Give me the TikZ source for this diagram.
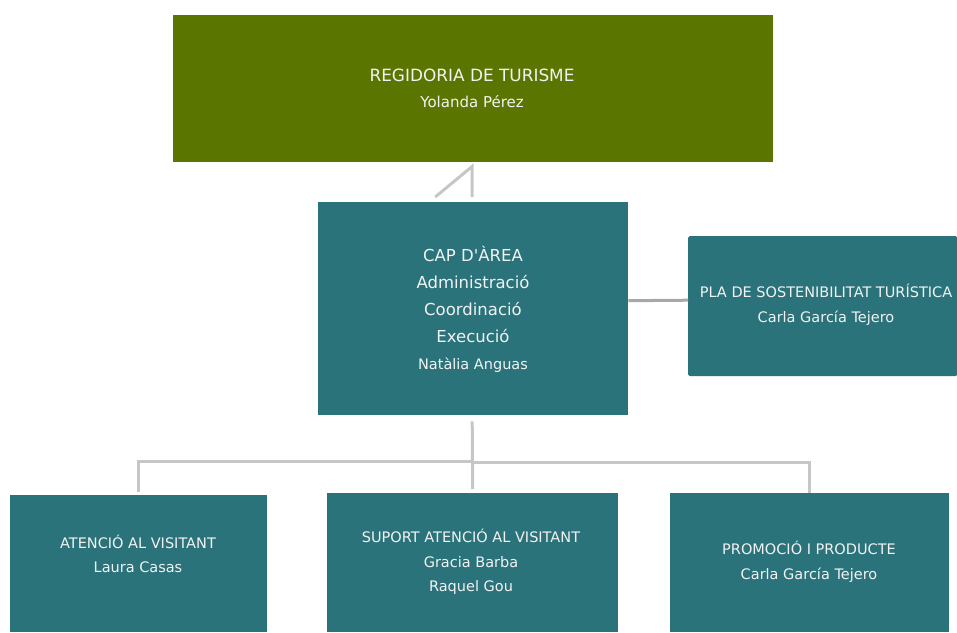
\documentclass[tikz,border=0pt]{standalone}
\usepackage{fontspec}
\setmainfont{DejaVu Sans}
\newfontfamily\plainf{DejaVu Sans}
\usetikzlibrary{calc}
\definecolor{olive}{HTML}{5A7600}
\definecolor{teal}{HTML}{2B737B}
\definecolor{txt}{HTML}{F2F2F2}
\definecolor{lnA}{HTML}{C6C6C6}
\definecolor{lnB}{HTML}{A8A8A8}
\tikzset{
  box/.style={rectangle, draw=none, inner sep=0pt, anchor=north west},
  lbl/.style={text=txt, align=center, inner sep=0pt, font=\fontsize{14.5}{24.5}\selectfont},
  conn/.style={line width=3pt, line cap=butt, line join=miter},
}
\begin{document}
\begin{tikzpicture}[x=1pt,y=-1pt]
\useasboundingbox (0,0) rectangle (957,632);
% boxes
\node[box, fill=olive, minimum width=600pt, minimum height=147pt] (top) at (173,15) {};
\node[box, fill=teal, minimum width=310pt, minimum height=213pt] (cap) at (318,202) {};
\node[box, fill=teal, minimum width=269pt, minimum height=140pt, rounded corners=1.5pt] (pla) at (688,236) {};
\node[box, fill=teal, minimum width=257pt, minimum height=137pt] (b1) at (10,495) {};
\node[box, fill=teal, minimum width=291pt, minimum height=139pt] (b2) at (327,493) {};
\node[box, fill=teal, minimum width=279pt, minimum height=139pt] (b3) at (670,493) {};
% texts
\node[lbl, font=\fontsize{16.9}{26}\selectfont] (toptxt) at (472,88) {REGIDORIA DE TURISME\\{\fontsize{15}{26}\selectfont Yolanda Pérez}};
\node[lbl, font=\fontsize{16.5}{27}\selectfont] (captxt) at (473,309) {CAP D{\plainf'}ÀREA\\Administració\\Coordinació\\Execució\\{\fontsize{14.5}{27}\selectfont Natàlia Anguas}};
\node[lbl] (platxt) at (826,305) {PLA DE SOSTENIBILITAT TURÍSTICA\\Carla García Tejero};
\node[lbl] (b1txt) at (138,554) {ATENCIÓ AL VISITANT\\Laura Casas};
\node[lbl] (b2txt) at (471,562) {SUPORT ATENCIÓ AL VISITANT\\Gracia Barba\\Raquel Gou};
\node[lbl] (b3txt) at (809,562) {PROMOCIÓ I PRODUCTE\\Carla García Tejero};
% connectors
\coordinate (w1) at ($(cap.north)+(-38,-5)$);
\coordinate (w2) at ($(top.south)+(-1,4)$);
\coordinate (w3) at ($(cap.north)+(-1,-5)$);
\draw[conn, lnA] (w1) -- (w2) -- (w3);
\coordinate (pA) at ($(cap.east)+(0,-8)$);
\coordinate (pB) at ($(pla.west)+(0,-6)$);
\draw[conn, lnB] (pA) -- (pB);
\coordinate (c0) at ($(cap.south)+(-1,6)$);
\coordinate (c1) at ($(b2.north)+(0,-4)$);
\coordinate (h) at ($(cap.south)+(-1,46.5)$);
\coordinate (l1) at ($(b1.north)+(0,-3)$);
\coordinate (r1) at ($(b3.north)+(0,0)$);
\draw[conn, lnA] (c0) -- (c1);
\draw[conn, lnA] (l1) |- (h);
\draw[conn, lnA] ($(h)+(0,1)$) -| (r1);
\end{tikzpicture}
\end{document}
